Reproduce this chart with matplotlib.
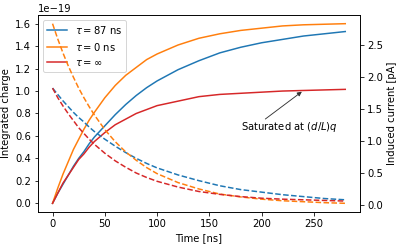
import matplotlib
matplotlib.use("Agg")
import matplotlib.pyplot as plt
from matplotlib.ticker import MultipleLocator
import numpy as np

# time samples [ns]
t = [0, 5, 10, 15, 20, 25, 30, 35, 40, 50, 60, 70, 80, 90, 100,
     120, 140, 160, 180, 200, 220, 240, 260, 280]

# integrated charge, units of 1e-19 C
q_87 = [0, 0.09, 0.17, 0.25, 0.33, 0.40, 0.46, 0.53, 0.59, 0.69, 0.79, 0.88, 0.96, 1.03, 1.09,
        1.19, 1.27, 1.34, 1.39, 1.43, 1.46, 1.49, 1.51, 1.53]
q_0 = [0, 0.135, 0.26, 0.37, 0.48, 0.57, 0.66, 0.74, 0.81, 0.94, 1.05, 1.14, 1.21, 1.28, 1.33,
       1.41, 1.47, 1.51, 1.54, 1.56, 1.58, 1.59, 1.595, 1.60]
q_inf = [0, 0.09, 0.18, 0.25, 0.32, 0.39, 0.44, 0.50, 0.55, 0.63, 0.70, 0.75, 0.80, 0.835, 0.87,
         0.91, 0.95, 0.97, 0.98, 0.99, 1.00, 1.005, 1.01, 1.015]

# induced current [pA] (right axis)
i_87 = [1.83, 1.73, 1.63, 1.54, 1.45, 1.37, 1.30, 1.22, 1.15, 1.03, 0.92, 0.82, 0.73, 0.65, 0.58,
        0.47, 0.38, 0.30, 0.24, 0.20, 0.16, 0.13, 0.10, 0.08]
i_0 = [2.84, 2.60, 2.38, 2.18, 2.00, 1.83, 1.68, 1.54, 1.41, 1.18, 0.99, 0.83, 0.70, 0.585, 0.49,
       0.35, 0.25, 0.17, 0.125, 0.09, 0.065, 0.05, 0.035, 0.025]
i_inf = [1.83, 1.68, 1.55, 1.43, 1.32, 1.21, 1.12, 1.03, 0.95, 0.81, 0.69, 0.59, 0.50, 0.43, 0.37,
         0.28, 0.21, 0.165, 0.13, 0.105, 0.09, 0.08, 0.07, 0.06]

labels = [r'$\tau = 87$ ns', r'$\tau = 0$ ns', r'$\tau = \infty$']
colors = ['C0', 'C1', 'C3']

dpi = 72
fig = plt.figure(figsize=(399 / dpi, 245 / dpi), dpi=dpi)
ax = fig.add_axes([0.095, 0.1335, 0.807, 0.8065])
ax2 = ax.twinx()

for q, c, lab in zip([q_87, q_0, q_inf], colors, labels):
    ax.plot(t, np.array(q) * 1e-19, color=c, label=lab)
for i, c in zip([i_87, i_0, i_inf], colors):
    ax2.plot(t, i, color=c, linestyle='--')

ax.yaxis.set_major_locator(MultipleLocator(0.2e-19))
ax2.yaxis.set_major_locator(MultipleLocator(0.5))

ax.set_xlabel("Time [ns]")
ax.set_ylabel("Integrated charge")
ax2.set_ylabel("Induced current [pA]")
ax.legend(loc='upper left')

ax.annotate('', xy=(240, 1.005e-19), xytext=(202, 0.74e-19),
            arrowprops=dict(arrowstyle='-|>', color='#333333', lw=0.9, mutation_scale=9))
ax.text(227, 0.676e-19, r'Saturated at $(d/L)q$', ha='center', va='center')

fig.savefig("out.png", dpi=dpi)
